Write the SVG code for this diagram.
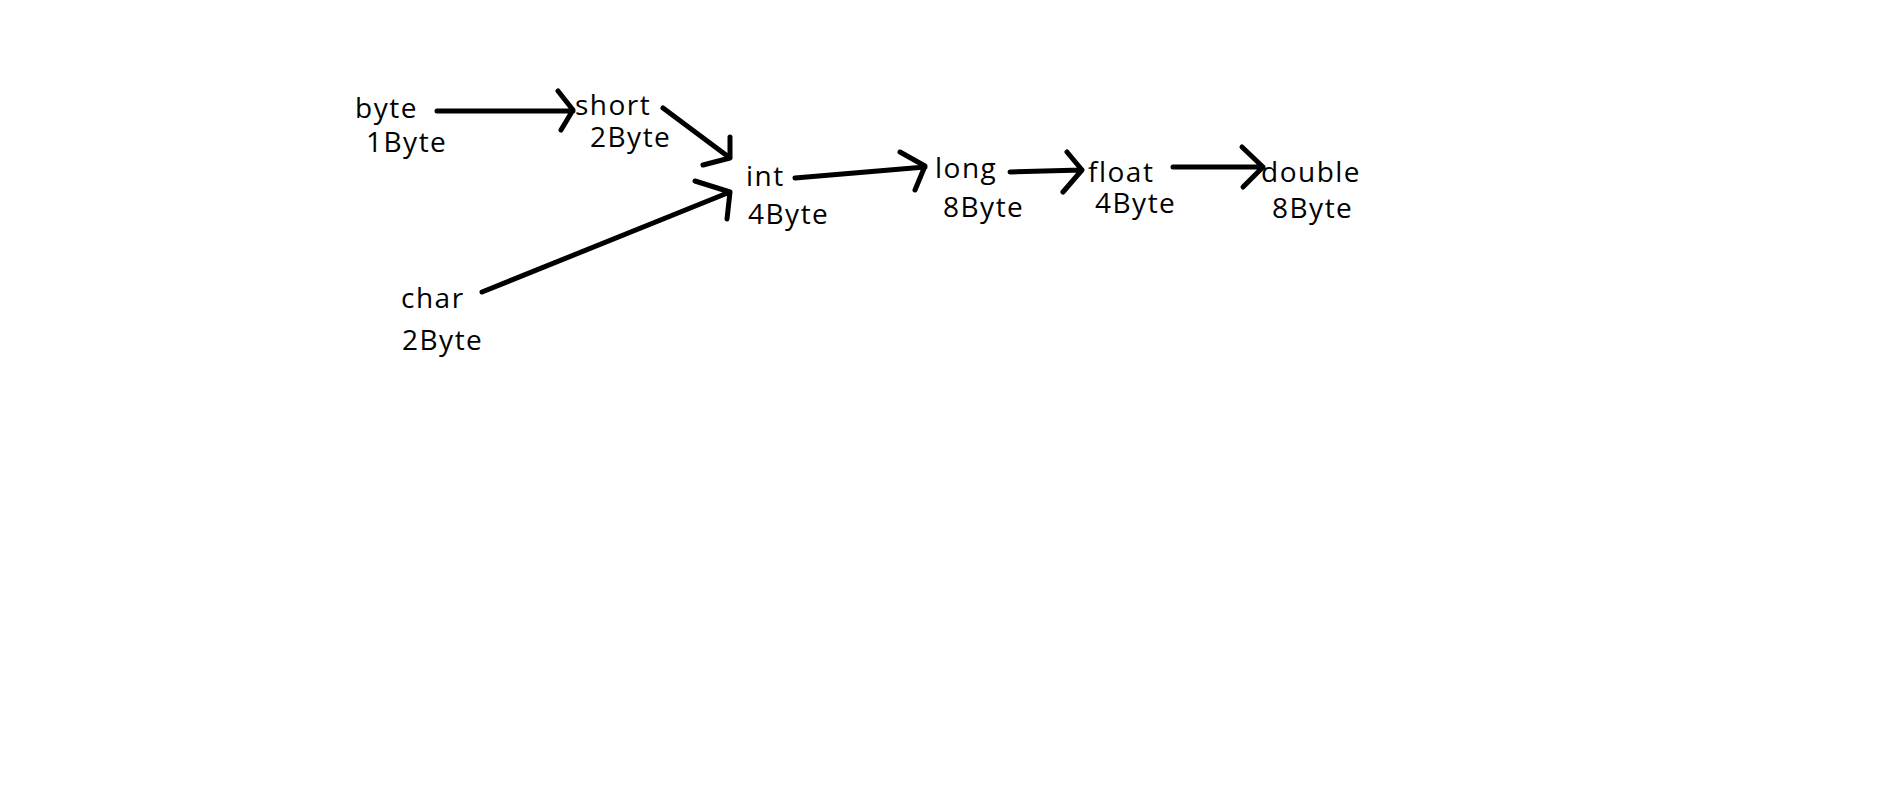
<svg xmlns="http://www.w3.org/2000/svg" width="1896" height="801" viewBox="0 0 1896 801">
<style>
text{font-family:"Open Sans","Noto Sans","DejaVu Sans",sans-serif;font-size:28px;fill:#000;letter-spacing:1.5px}
.c path{fill:none;stroke:#000;stroke-width:5;stroke-linecap:round;stroke-linejoin:round}
</style>
<rect width="1896" height="801" fill="#fff"/>
<g class="c" id="connectors">
<path d="M437,111 L573,111 M558,91 L573,110 L561,130"/>
<path d="M663,108 L730,158 M730,137 L730,158 L703,165"/>
<path d="M482,292 L730,192 M695,181 L730,192 L727,219"/>
<path d="M795,178 L925,167 M900,152 L925,166 L915,190"/>
<path d="M1010,172 L1082,170 M1067,152 L1082,170 L1063,192"/>
<path d="M1173,167 L1263,167 M1242,147 L1263,167 L1243,187"/>
</g>
<g id="byte"><text x="355" y="118">byte</text><text x="366" y="152">1Byte</text></g>
<g id="short"><text x="575" y="115">short</text><text x="590" y="147">2Byte</text></g>
<g id="int"><text x="746" y="186">int</text><text x="748" y="224">4Byte</text></g>
<g id="char"><text x="401" y="308">char</text><text x="402" y="350">2Byte</text></g>
<g id="long"><text x="935" y="178">long</text><text x="943" y="217">8Byte</text></g>
<g id="float"><text x="1088" y="182">float</text><text x="1095" y="213">4Byte</text></g>
<g id="double"><text x="1261" y="182">double</text><text x="1272" y="218">8Byte</text></g>
</svg>
